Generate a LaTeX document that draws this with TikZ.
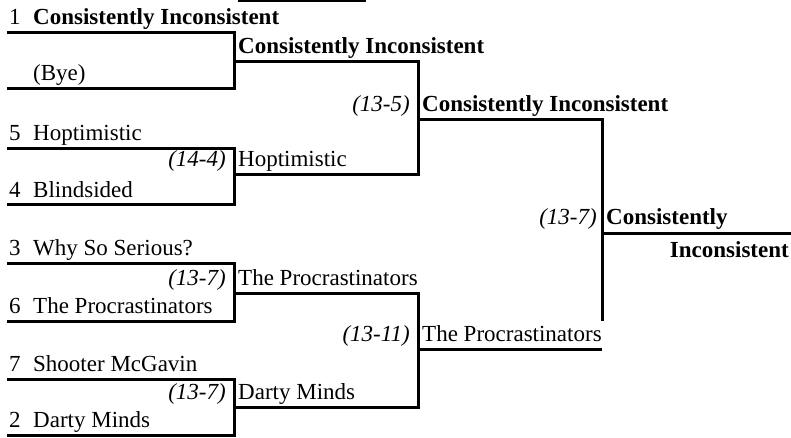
\documentclass[tikz,border=0pt]{standalone}
\usepackage{fontspec}
\setmainfont{Liberation Serif}
\tikzset{
  bar/.style={line width=3pt, line join=miter},
  team/.style={anchor=base west, inner sep=0pt, font=\fontsize{23}{27}\selectfont},
  winner/.style={team, font=\fontsize{23}{27}\selectfont\bfseries},
  seednum/.style={team},
  score/.style={anchor=base east, inner sep=0pt, font=\fontsize{23}{27}\selectfont\itshape},
}
\begin{document}
\begin{tikzpicture}[x=1pt, y=-1pt]
    \useasboundingbox (0,0) rectangle (791,438);
    % \draw[help lines] (0,0) grid (791,438);
    % line starts of each round
    \coordinate (a1) at (7,33);   \coordinate (a2) at (7,89);
    \coordinate (a3) at (7,149);  \coordinate (a4) at (7,205);
    \coordinate (a5) at (7,263);  \coordinate (a6) at (7,321);
    \coordinate (a7) at (7,379);  \coordinate (a8) at (7,435);
    \coordinate (b1) at (234,62); \coordinate (b2) at (234,175);
    \coordinate (b3) at (234,293);\coordinate (b4) at (234,407);
    \coordinate (c1) at (418,120);\coordinate (c2) at (418,349);
    \coordinate (d1) at (602,233);\coordinate (e1) at (791,233);
    \coordinate (stub) at (602,321);
    \coordinate (top1) at (238,0.5); \coordinate (top2) at (366,0.5);

    % brackets
    \draw[bar] (a1) -| (b1) |- (a2);
    \draw[bar] (a3) -| (b2) |- (a4);
    \draw[bar] (a5) -| (b3) |- (a6);
    \draw[bar] (a7) -| (b4) |- (a8);
    \draw[bar] (b1) -| (c1) |- (b2);
    \draw[bar] (b3) -| (c2) |- (b4);
    \draw[bar] (c1) -| (d1) -- (stub);
    \draw[bar] (c2) -- (c2 -| d1);
    \draw[bar] (d1) -- (e1);
    \draw[bar] (top1) -- (top2);

    % round 1
    \node[seednum] (k1) at (9,25) {1};
    \node[winner] (n1) at (33,25) {Consistently Inconsistent};
    \node[team] (n2) at (33,81) {(Bye)};
    \node[seednum] (k3) at (9,141) {5};
    \node[team] (n3) at (33,141) {Hoptimistic};
    \node[seednum] (k4) at (9,197) {4};
    \node[team] (n4) at (33,197) {Blindsided};
    \node[seednum] (k5) at (9,255) {3};
    \node[team] (n5) at (33,255) {Why So Serious?};
    \node[seednum] (k6) at (9,313) {6};
    \node[team] (n6) at (33,313) {The Procrastinators};
    \node[seednum] (k7) at (9,371) {7};
    \node[team] (n7) at (33,371) {Shooter McGavin};
    \node[seednum] (k8) at (9,427) {2};
    \node[team] (n8) at (33,427) {Darty Minds};

    % round 2
    \node[winner] (w1) at (238,54) {Consistently Inconsistent};
    \node[score] (p2) at (226,167) {(14-4)};
    \node[team] (w2) at (238,167) {Hoptimistic};
    \node[score] (p3) at (226,285) {(13-7)};
    \node[team] (w3) at (238,285) {The Procrastinators};
    \node[score] (p4) at (226,399) {(13-7)};
    \node[team] (w4) at (238,399) {Darty Minds};

    % round 3
    \node[score] (q1) at (410,112) {(13-5)};
    \node[winner] (v1) at (422,112) {Consistently Inconsistent};
    \node[score] (q2) at (410,341) {(13-11)};
    \node[team] (v2) at (422,341) {The Procrastinators};

    % final
    \node[score] (f1) at (597,225) {(13-7)};
    \node[winner] (champ1) at (606,225) {Consistently};
    \node[winner, anchor=base east] (champ2) at (789,257) {Inconsistent};
\end{tikzpicture}
\end{document}
